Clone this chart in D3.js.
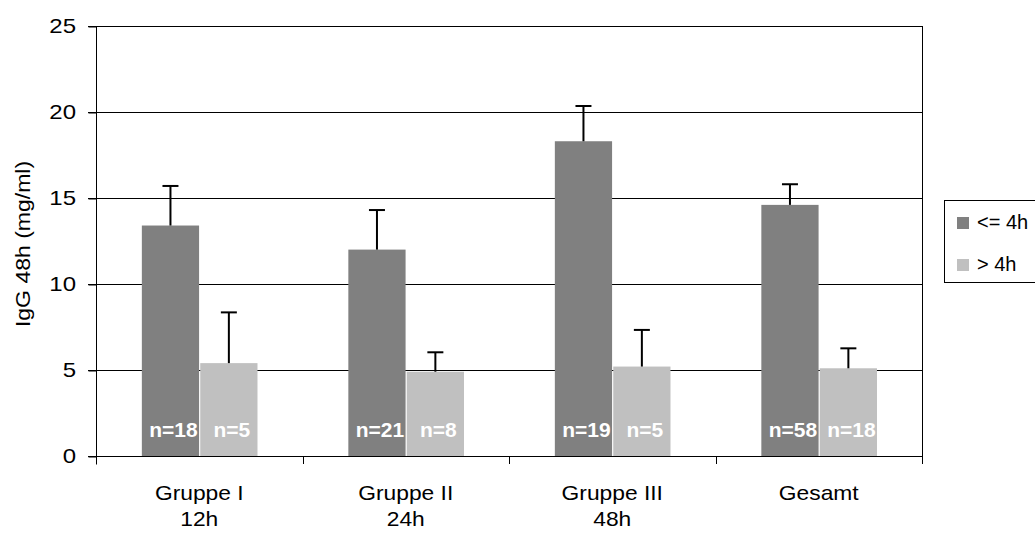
<!DOCTYPE html>
<html>
<head>
<meta charset="utf-8">
<script src="https://cdn.jsdelivr.net/npm/d3@7"></script>
<style>
  body { margin: 0; background: #fff; }
  svg { display: block; font-family: "Liberation Sans", Arial, sans-serif; }
</style>
</head>
<body>
<script>
// data
var groups = ["Gruppe I|12h", "Gruppe II|24h", "Gruppe III|48h", "Gesamt"];
var seriesNames = ["<= 4h", "> 4h"];
var meanShort = [13.4, 12.0, 18.3, 14.6];
var meanLong = [5.4, 4.9, 5.2, 5.1];
var errShort = [15.7, 14.3, 20.35, 15.8];
var errLong = [8.35, 6.03, 7.33, 6.26];
var nShort = [18, 21, 19, 58];
var nLong = [5, 8, 5, 18];
var yTicks = [0, 5, 10, 15, 20, 25];
var colors = ["#808080", "#c0c0c0"];

var width = 1035, height = 533;
// note: "top" is reserved on window, so plot edges get their own names
var plotL = 96, plotR = 922, plotT = 26, plotB = 456;

var svg = d3.select("body").append("svg")
  .attr("width", width)
  .attr("height", height);

var y = d3.scaleLinear().domain([0, 25]).range([plotB, plotT]);
var x0 = d3.scaleBand().domain(groups).range([plotL, plotR]);
var bw = x0.bandwidth();
var x1 = d3.scaleBand().domain(seriesNames).range([bw * 0.222, bw * 0.782]).paddingInner(0.02);

var rows = groups.map(function (g, i) {
  return {
    group: g,
    bars: [
      { s: seriesNames[0], v: meanShort[i], e: errShort[i], n: nShort[i], c: colors[0] },
      { s: seriesNames[1], v: meanLong[i], e: errLong[i], n: nLong[i], c: colors[1] }
    ]
  };
});

// gridlines
svg.append("g").selectAll("line")
  .data(yTicks.filter(function (d) { return d > 0; }))
  .enter().append("line")
  .attr("x1", plotL - 8).attr("x2", plotR)
  .attr("y1", function (d) { return y(d) + 0.5; })
  .attr("y2", function (d) { return y(d) + 0.5; })
  .attr("stroke", "#000").attr("stroke-width", 1);

// y axis
var yAxis = svg.append("g")
  .attr("transform", "translate(" + (plotL + 0.5) + ",0.5)")
  .call(d3.axisLeft(y).tickValues(yTicks).tickSize(8).tickPadding(0).tickFormat(d3.format("d")));
yAxis.select(".domain").attr("d", "M0," + plotT + "V" + (plotB + 8));
yAxis.selectAll("line").attr("stroke", "#000");
yAxis.selectAll("text").remove();
svg.append("g").selectAll("text")
  .data(yTicks)
  .enter().append("text")
  .attr("transform", function (d) { return "translate(76," + (y(d) + 7) + ") scale(1.2,1)"; })
  .attr("text-anchor", "end")
  .attr("font-size", 20)
  .attr("fill", "#000")
  .text(function (d) { return d; });

// x axis
var xAxis = svg.append("g")
  .attr("transform", "translate(0," + (plotB + 0.5) + ")")
  .call(d3.axisBottom(x0).tickSize(0).tickFormat(""));
xAxis.select(".domain").attr("d", "M" + (plotL - 8) + ",0H" + plotR);
xAxis.selectAll(".tick").remove();
svg.append("g").selectAll("line")
  .data(groups.slice(1))
  .enter().append("line")
  .attr("x1", function (d) { return Math.round(x0(d)) + 0.5; })
  .attr("x2", function (d) { return Math.round(x0(d)) + 0.5; })
  .attr("y1", plotB).attr("y2", plotB + 8)
  .attr("stroke", "#000");

// right border
svg.append("line")
  .attr("x1", plotR + 0.5).attr("x2", plotR + 0.5)
  .attr("y1", plotT).attr("y2", plotB + 8)
  .attr("stroke", "#000");

// category labels
var lab = svg.append("g").selectAll("g")
  .data(groups)
  .enter().append("g");
lab.each(function (g) {
  var parts = g.split("|");
  var cx = x0(g) + bw / 2;
  d3.select(this).selectAll("text")
    .data(parts)
    .enter().append("text")
    .attr("transform", function (d, i) { return "translate(" + cx + "," + (500 + i * 26) + ") scale(1.14,1)"; })
    .attr("text-anchor", "middle")
    .attr("font-size", 20)
    .attr("fill", "#000")
    .text(function (d) { return d; });
});

// bars
var grp = svg.append("g").selectAll("g")
  .data(rows)
  .enter().append("g")
  .attr("transform", function (d) { return "translate(" + x0(d.group) + ",0)"; });

var bar = grp.selectAll("g")
  .data(function (d) { return d.bars; })
  .enter().append("g");

bar.append("rect")
  .attr("x", function (d) { return x1(d.s); })
  .attr("width", x1.bandwidth())
  .attr("y", function (d) { return y(d.v); })
  .attr("height", function (d) { return plotB - y(d.v); })
  .attr("fill", function (d) { return d.c; });

// error bars
bar.append("line")
  .attr("x1", function (d) { return x1(d.s) + x1.bandwidth() / 2; })
  .attr("x2", function (d) { return x1(d.s) + x1.bandwidth() / 2; })
  .attr("y1", function (d) { return y(d.v); })
  .attr("y2", function (d) { return y(d.e); })
  .attr("stroke", "#000").attr("stroke-width", 2);
bar.append("line")
  .attr("x1", function (d) { return x1(d.s) + x1.bandwidth() / 2 - 8; })
  .attr("x2", function (d) { return x1(d.s) + x1.bandwidth() / 2 + 8; })
  .attr("y1", function (d) { return y(d.e); })
  .attr("y2", function (d) { return y(d.e); })
  .attr("stroke", "#000").attr("stroke-width", 2);

// n labels
bar.append("text")
  .attr("transform", function (d) { return "translate(" + (x1(d.s) + x1.bandwidth() / 2 + 3) + ",437) scale(1.05,1)"; })
  .attr("text-anchor", "middle")
  .attr("font-size", 20)
  .attr("font-weight", "bold")
  .attr("fill", "#fff")
  .text(function (d) { return "n=" + d.n; });

// legend
var lg = svg.append("g");
lg.append("rect")
  .attr("x", 944.5).attr("y", 200.5)
  .attr("width", 100).attr("height", 82)
  .attr("fill", "#fff").attr("stroke", "#000");
var li = lg.selectAll("g")
  .data(seriesNames)
  .enter().append("g")
  .attr("transform", function (d, i) { return "translate(957," + (217 + i * 42) + ")"; });
li.append("rect")
  .attr("width", 12).attr("height", 12)
  .attr("fill", function (d, i) { return colors[i]; });
li.append("text")
  .attr("x", 20).attr("y", 12)
  .attr("font-size", 20)
  .attr("fill", "#000")
  .text(function (d) { return d; });

// y title
svg.append("text")
  .attr("transform", "translate(30,244) rotate(-90) scale(1.15,1)")
  .attr("text-anchor", "middle")
  .attr("font-size", 20)
  .attr("fill", "#000")
  .text("IgG 48h (mg/ml)");
</script>
</body>
</html>
